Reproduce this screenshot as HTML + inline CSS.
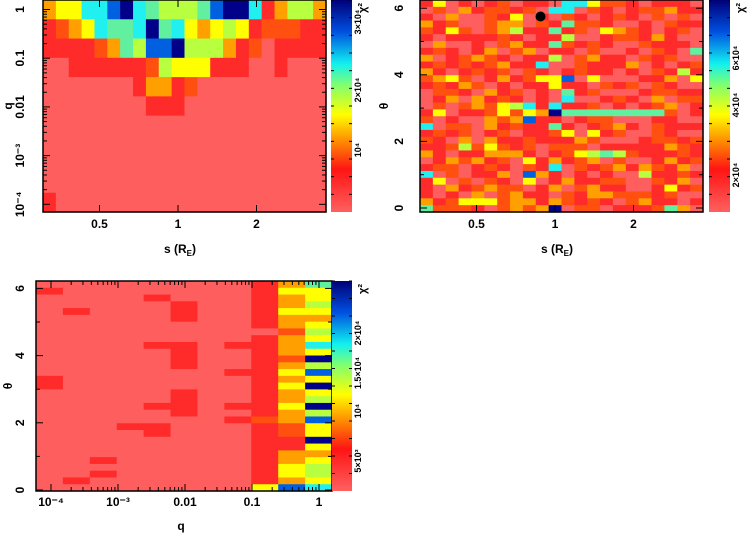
<!DOCTYPE html>
<html><head><meta charset="utf-8">
<style>
html,body{margin:0;padding:0;background:#fff;}
svg{display:block;font-family:"Liberation Sans",sans-serif;font-weight:bold;}
text{fill:#000;}
</style></head>
<body>
<svg id="c" width="754" height="537" viewBox="0 0 754 537">
<defs>
<linearGradient id="cb" x1="0" y1="1" x2="0" y2="0">
<stop offset="0" stop-color="#ff6060"/><stop offset="0.2" stop-color="#ff1414"/>
<stop offset="0.35" stop-color="#ff9a00"/><stop offset="0.46" stop-color="#ffff00"/>
<stop offset="0.6" stop-color="#80ff70"/><stop offset="0.7" stop-color="#10f0f0"/>
<stop offset="0.85" stop-color="#0050e0"/><stop offset="1" stop-color="#000078"/>
</linearGradient>
</defs>
</svg>
<script>
// ---- data (digit = chi^2 level 0..9), rows listed top to bottom ----
const p1Rows=[
"3447789765556899713553",
"1234766796743454122211",
"1111236588955531201111",
"0011111125444111001000",
"0000000133120000000000",
"0000000011100000000000",
"0000000000000000000000",
"0000000000000000000000",
"0000000000000000000000",
"0000000000000000000000",
"1000000000000000000000"];
const p1XTicks=["0.5","1","2"];
const p1XVals=[0.5,1,2];
const p1YTicks=["1","0.1","0.01","10⁻³","10⁻⁴"];
const p1YTickDec=[0,1,2,3,4];

const p2Rows=[
"1401012011077422101110",
"0203122120770210122311",
"1030021401021012102020",
"3120023302162210010211",
"2142023511612043210120",
"1011112101150012213100",
"0300102311621210021110",
"1210130230110200102106",
"3012321011502311021200",
"1212123117002111301012",
"3101212021012110102151",
"2342013124480400011304",
"1213201011411021202100",
"0221031201061200012211",
"0130312101070012103022",
"0202324571711201012301",
"1401124243966666666201",
"2010032381101220001100",
"7022031211610123102111",
"1212012011240412002100",
"2103031121113200012212",
"1125242120222011111321",
"3101133310124565211121",
"0132312041312302001312",
"1220121021702123132130",
"7020113083101010051121",
"1402021040131122002130",
"1031232201302311001412",
"1010302311021332221200",
"3124442331321210231101",
"6222102323902201112630"];
const p2XTicks=["0.5","1","2"];
const p2XVals=[0.5,1,2];
const p2YTicks=["0","2","4","6"];
const p2YVals=[0,2,4,6];
const p2Dot=[0.88,5.75]; // s, theta

const p3Rows=[
"00000000136",
"10000000144",
"00001000134",
"00000100135",
"01000100144",
"00000100133",
"00000000134",
"00000000025",
"00000000134",
"00001101137",
"00000100134",
"00000100129",
"00000100135",
"00000001148",
"10000000134",
"10000000149",
"00000100134",
"00000100135",
"00001101149",
"00000100135",
"00000001238",
"00011000124",
"00001000124",
"00000000119",
"00000000114",
"00000000133",
"00100000134",
"00000000145",
"00100000145",
"01000000134",
"00000000487"];
const p3XTicks=["10⁻⁴","10⁻³","0.01","0.1","1"];
const p3XDec=[-4,-3,-2,-1,0];
const p3YTicks=["0","2","4","6"];
const p3YVals=[0,2,4,6];

// ---- drawing ----
const palette=["#ff5e5e","#ff2a2a","#ff5010","#ffa000","#ffff00","#b8ff40","#60f0a0","#20f0f0","#0060e0","#000088"];
const svg=document.getElementById('c');
const NS="http://www.w3.org/2000/svg";
function mk(tag,attrs,parent){const e=document.createElementNS(NS,tag);for(const k in attrs)e.setAttribute(k,attrs[k]);(parent||svg).appendChild(e);return e;}
function txt(s,x,y,size,rot,anchor,parent){const t=mk('text',{x:x,y:y,'font-size':size,'text-anchor':anchor||'middle'},parent);if(rot)t.setAttribute('transform','rotate('+rot+' '+x+' '+y+')');t.textContent=s;return t;}
function sLabel(x,y,g){const t=mk('text',{x:x,y:y,'font-size':12,'text-anchor':'middle'},g);t.appendChild(document.createTextNode('s (R'));const sub=mk('tspan',{'font-size':8,dy:3},t);sub.textContent='E';const c=mk('tspan',{'font-size':12,dy:-3},t);c.textContent=')';}

function heat(g,rows,x0,y0,w,h,name){
  const nr=rows.length,nc=rows[0].length;
  const xs=i=>x0+i*w/nc, ys=j=>y0+j*h/nr;
  rows.forEach((r,j)=>{for(let i=0;i<nc;i++){
    const v=+r[i];
    const c=mk('rect',{x:xs(i),y:ys(j),width:w/nc+0.6,height:h/nr+0.6,fill:palette[v]},g);
    
    
  }});
}
function frame(g,x0,y0,w,h){mk('rect',{x:x0,y:y0,width:w,height:h,fill:'none',stroke:'#000','stroke-width':1.5},g);}
function colorbar(g,x,y,w,h,labels,pos,name){
  const r=mk('rect',{x:x,y:y,width:w,height:h,fill:'url(#cb)'},g);
  
  for(let k=0;k<12;k++){const yy=y+h*k/12;mk('line',{x1:x,x2:x+3,y1:yy,y2:yy,stroke:'#000'},g);mk('line',{x1:x+w-3,x2:x+w,y1:yy,y2:yy,stroke:'#000'},g);}
  labels.forEach((l,i)=>{txt(l,x+w+9,y+pos[i],9,-90,'middle',g);});
  txt('χ²',x+w+14,y+8,11,-90,'middle',g);
}
function ticksX(g,xf,vals,y0,h,major){
  vals.forEach(v=>{const x=xf(v);mk('line',{x1:x,x2:x,y1:y0+h,y2:y0+h-(major?7:4),stroke:'#000'},g);mk('line',{x1:x,x2:x,y1:y0,y2:y0+(major?7:4),stroke:'#000'},g);});
}
function ticksY(g,yf,vals,x0,w,major){
  vals.forEach(v=>{const y=yf(v);mk('line',{x1:x0,x2:x0+(major?7:4),y1:y,y2:y,stroke:'#000'},g);mk('line',{x1:x0+w,x2:x0+w-(major?7:4),y1:y,y2:y,stroke:'#000'},g);});
}

// Panel 1
(function(){
  const g=mk('g',{});
  const X0=43,Y0=0,W=283,H=212;
  heat(g,p1Rows,X0,Y0,W,H,'q-s');
  frame(g,X0,Y0,W,H);
  const yDec=d=>9.5+d*48.7;
  ticksY(g,yDec,p1YTickDec,X0,W,true);
  const minor=[];p1YTickDec.forEach(d=>{for(let m=2;m<10;m++){const v=d-Math.log10(m);if(yDec(v)>0&&yDec(v)<H)minor.push(v);}});
  ticksY(g,yDec,minor,X0,W,false);
  p1YTicks.forEach((l,i)=>txt(l,24,yDec(p1YTickDec[i]),12,-90,'middle',g));
  const sx=s=>178+Math.log2(s)*78.5;
  ticksX(g,sx,p1XVals,Y0,H,true);
  p1XTicks.forEach((l,i)=>txt(l,sx(p1XVals[i]),228,12,0,'middle',g));
  sLabel(180,253,g);
  txt('q',12,106,12,-90,'middle',g);
  colorbar(g,331,0,21,212,['10⁴','2×10⁴','3×10⁴'],[150,90,22],'colorbar-q-s');
})();

// Panel 2
(function(){
  const g=mk('g',{});
  const X0=420,Y0=0,W=283,H=212;
  heat(g,p2Rows,X0,Y0,W,H,'theta-s');
  frame(g,X0,Y0,W,H);
  const yf=v=>208-v*33.3;
  ticksY(g,yf,p2YVals,X0,W,true);
  ticksY(g,yf,[1,3,5],X0,W,false);
  p2YTicks.forEach((l,i)=>txt(l,403,yf(p2YVals[i]),12,-90,'middle',g));
  const sx=s=>555+Math.log2(s)*78.5;
  ticksX(g,sx,p2XVals,Y0,H,true);
  p2XTicks.forEach((l,i)=>txt(l,sx(p2XVals[i]),228,12,0,'middle',g));
  sLabel(557,253,g);
  txt('θ',388,106,12,-90,'middle',g);
  const d=mk('circle',{cx:sx(p2Dot[0]),cy:yf(p2Dot[1]),r:5,fill:'#000'},g);
  
  colorbar(g,709,0,21,212,['2×10⁴','4×10⁴','6×10⁴'],[175,105,58],'colorbar-theta-s');
})();

// Panel 3
(function(){
  const g=mk('g',{});
  const X0=36,Y0=281,W=296,H=210;
  heat(g,p3Rows,X0,Y0,W,H,'theta-q');
  frame(g,X0,Y0,W,H);
  const yf=v=>490-v*33.6;
  ticksY(g,yf,p3YVals,X0,W,true);
  ticksY(g,yf,[1,3,5],X0,W,false);
  p3YTicks.forEach((l,i)=>txt(l,24,yf(p3YVals[i]),12,-90,'middle',g));
  const xf=d=>319+d*67;
  ticksX(g,xf,p3XDec,Y0,H,true);
  const minor=[];p3XDec.forEach(d=>{for(let m=2;m<10;m++){const v=d+Math.log10(m);if(xf(v)>X0&&xf(v)<X0+W)minor.push(v);}});
  ticksX(g,xf,minor,Y0,H,false);
  p3XTicks.forEach((l,i)=>txt(l,xf(p3XDec[i]),506,12,0,'middle',g));
  txt('q',181,530,12,0,'middle',g);
  txt('θ',12,386,12,-90,'middle',g);
  colorbar(g,332,281,20,210,['5×10³','10⁴','1.5×10⁴','2×10⁴'],[180,130,92,52],'colorbar-theta-q');
})();
</script>
</body></html>
